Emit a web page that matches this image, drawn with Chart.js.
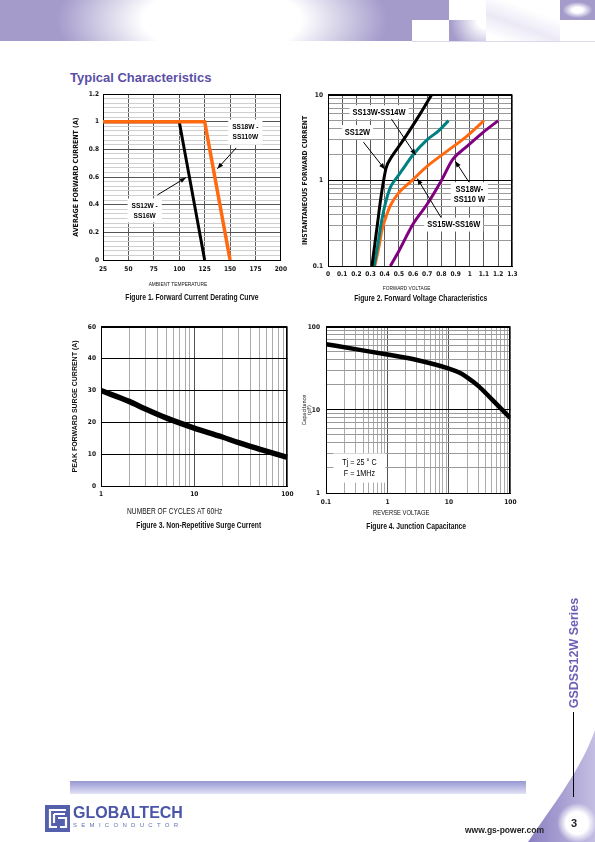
<!DOCTYPE html>
<html>
<head>
<meta charset="utf-8">
<script src="https://cdn.jsdelivr.net/npm/chart.js@4.4.1/dist/chart.umd.min.js"></script>
<style>
html, body { margin: 0; padding: 0; background: #fff; }
body { width: 595px; height: 842px; position: relative; overflow: hidden; font-family: 'Liberation Sans', Arial, sans-serif; }
.abs { position: absolute; }
canvas { position: absolute; }
</style>
</head>
<body>

<!-- header bands -->
<div class="abs" style="left:0;top:0;width:412px;height:41px;background:radial-gradient(ellipse 165px 70px at 222px 20px,#fff 0,#fff 48%,#a49bcb 100%);"></div>
<div class="abs" style="left:412px;top:0;width:37px;height:20px;background:#a49bcb;"></div>
<div class="abs" style="left:449px;top:20px;width:37px;height:21px;background:radial-gradient(circle at 100% 0%,#fff 0,#fff 20%,#a49bcb 85%);"></div>
<div class="abs" style="left:486px;top:0;width:74px;height:41px;background:linear-gradient(200deg,#fff 30%,#ece9f6 60%,#fff 90%);"></div>
<div class="abs" style="left:560px;top:0;width:35px;height:20px;background:radial-gradient(ellipse 15px 8px at 50% 50%,#fff 35%,#a49bcb 100%);"></div>
<div class="abs" style="left:412px;top:41px;width:183px;height:1px;background:#dcd8ee;"></div>

<div class="abs" style="left:70px;top:70px;font-weight:bold;font-size:13px;color:#5b4fa8;white-space:nowrap;">Typical Characteristics</div>

<canvas id="c1" width="226" height="216" style="left:66px;top:86px;width:226px;height:216px;"></canvas>
<canvas id="c2" width="226" height="218" style="left:296px;top:86px;width:226px;height:218px;"></canvas>
<canvas id="c3" width="232" height="213" style="left:66px;top:318px;width:232px;height:213px;"></canvas>
<canvas id="c4" width="230" height="214" style="left:292px;top:317px;width:230px;height:214px;"></canvas>

<!-- side and footer decoration -->
<svg class="abs" style="left:0;top:0;" width="595" height="842">
  <defs>
    <linearGradient id="sw" x1="0" y1="0" x2="1" y2="0">
      <stop offset="0" stop-color="#8a80c1"/>
      <stop offset="1" stop-color="#c4bee3"/>
    </linearGradient>
    <radialGradient id="wc">
      <stop offset="0.55" stop-color="#fff"/>
      <stop offset="1" stop-color="#fff" stop-opacity="0"/>
    </radialGradient>
    <linearGradient id="bar" x1="0" y1="0" x2="0" y2="1">
      <stop offset="0" stop-color="#9797d2"/>
      <stop offset="0.6" stop-color="#c3c3e9"/>
      <stop offset="1" stop-color="#e3e3f5"/>
    </linearGradient>
  </defs>
  <path d="M595,730 C582,768 553,805 528,842 L595,842 Z" fill="url(#sw)"/>
  <circle cx="577" cy="823" r="20" fill="url(#wc)"/>
  <line x1="573.5" y1="712" x2="573.5" y2="797" stroke="#000" stroke-width="1"/>
  <rect x="70" y="781" width="456" height="13" fill="url(#bar)"/>
  <rect x="45" y="805" width="25" height="27" fill="#5560ad"/>
  <path d="M21,5 H5 V22 H12 M9,9 H20 M9,9 V18 M13,13 H21 V22 H15" stroke="#fff" stroke-width="2.2" fill="none" transform="translate(45,805)"/>
</svg>
<div class="abs" style="left:574px;top:653px;transform:translate(-50%,-50%) rotate(-90deg);font-weight:bold;font-size:12.5px;color:#6b5fb6;white-space:nowrap;">GSDSS12W Series</div>
<div class="abs" style="left:73px;top:804px;font-weight:bold;font-size:16px;color:#4a55a8;white-space:nowrap;">GLOBALTECH</div>
<div class="abs" style="left:73px;top:822px;font-size:6px;letter-spacing:4.3px;color:#6470b5;white-space:nowrap;">SEMICONDUCTOR</div>
<div class="abs" style="left:465px;top:825px;font-weight:bold;font-size:8.5px;color:#222;white-space:nowrap;">www.gs-power.com</div>
<div class="abs" style="left:571px;top:817px;font-weight:bold;font-size:11px;color:#222;">3</div>

<script>
// Figure 1 - forward current derating
const derateTempLow = [25, 100, 125];   // SS12W - SS16W
const derateCurLow = [1, 1, 0];
const derateTempHigh = [25, 125, 150];  // SS18W - SS110W
const derateCurHigh = [1, 1, 0];
const fig1XLabels = ['25', '50', '75', '100', '125', '150', '175', '200'];
const fig1YLabels = ['0', '0.2', '0.4', '0.6', '0.8', '1', '1.2'];

// Figure 2 - forward voltage characteristics
const vfSS12 = [0.31, 0.33, 0.35, 0.37, 0.39, 0.41, 0.45, 0.5, 0.56, 0.65, 0.73];
const ifSS12 = [0.1, 0.18, 0.32, 0.58, 0.95, 1.4, 1.9, 2.5, 3.5, 6, 10];
const vfSS13 = [0.325, 0.35, 0.37, 0.4, 0.44, 0.48, 0.52, 0.6, 0.7, 0.78, 0.85];
const ifSS13 = [0.1, 0.17, 0.28, 0.5, 0.83, 1.05, 1.3, 2.0, 3.0, 3.8, 5];
const vfSS15 = [0.33, 0.36, 0.38, 0.41, 0.44, 0.5, 0.59, 0.7, 0.84, 0.98, 1.1];
const ifSS15 = [0.1, 0.17, 0.26, 0.38, 0.51, 0.72, 0.99, 1.47, 2.2, 3.3, 5];
const vfSS18 = [0.44, 0.5, 0.6, 0.7, 0.8, 0.88, 0.98, 1.09, 1.2];
const ifSS18 = [0.1, 0.15, 0.31, 0.53, 1.0, 1.76, 2.5, 3.6, 5];
const fig2XLabels = ['0', '0.1', '0.2', '0.3', '0.4', '0.5', '0.6', '0.7', '0.8', '0.9', '1', '1.1', '1.2', '1.3'];
const fig2YLabels = ['0.1', '1', '10'];

// Figure 3 - non-repetitive surge current
const surgeCycles = [1, 2, 3, 5, 10, 20, 30, 50, 100];
const surgeCurrent = [30, 26.6, 24.2, 21.4, 18.2, 15.4, 13.6, 11.6, 9];
const fig3XLabels = ['1', '10', '100'];
const fig3YLabels = ['0', '10', '20', '30', '40', '60'];

// Figure 4 - junction capacitance
const capVoltage = [0.1, 0.3, 1, 3, 10, 15, 20, 30, 50, 100];
const capValue = [62, 54, 46.5, 40, 31.5, 28, 24.5, 19.5, 13.4, 8];
const fig4XLabels = ['0.1', '1', '10', '100'];
const fig4YLabels = ['1', '10', '100'];

const NARROW = "'Liberation Sans Narrow', 'DejaVu Sans Condensed', sans-serif";
const SANS = "'Liberation Sans', Arial, sans-serif";
Chart.defaults.font.family = NARROW;
Chart.defaults.color = '#111';

const pts = (xs, ys) => xs.map((x, i) => ({ x: x, y: ys[i] }));

function logTicks(minExp, maxExp) {
    const out = [];
    for (let e = minExp; e < maxExp; e++) {
        for (let m = 1; m < 10; m++) out.push({ value: m * Math.pow(10, e) });
    }
    out.push({ value: Math.pow(10, maxExp) });
    return out;
}
const isDecade = v => Math.abs(Math.log10(v) - Math.round(Math.log10(v))) < 1e-6;
const decadeLabel = (labels, minExp) => v => isDecade(v) ? labels[Math.round(Math.log10(v)) - minExp] : '';

// black frame around the plot area
const framePlugin = {
    id: 'frame',
    beforeDatasetsDraw(chart) {
        const { ctx, chartArea: a } = chart;
        ctx.save();
        ctx.strokeStyle = '#000';
        ctx.lineWidth = 1;
        ctx.strokeRect(Math.round(a.left) + 0.5, Math.round(a.top) + 0.5,
            Math.round(a.right - a.left) - 1, Math.round(a.bottom - a.top));
        ctx.restore();
    }
};

// text squeezed sideways, to mimic the narrow face of the original
function narrowText(ctx, text, x, y, stretch) {
    ctx.save();
    ctx.translate(x, y);
    ctx.scale(stretch, 1);
    ctx.fillText(text, 0, 0);
    ctx.restore();
}

// boxed labels, arrows, x axis title and figure caption
const notesPlugin = {
    id: 'notes',
    afterDatasetsDraw(chart, args, opts) {
        const { ctx, chartArea: ca, scales } = chart;
        const sx = scales.x, sy = scales.y;
        ctx.save();
        (opts.arrows || []).forEach(a => {
            const x1 = sx.getPixelForValue(a.from[0]), y1 = sy.getPixelForValue(a.from[1]);
            const x2 = sx.getPixelForValue(a.to[0]), y2 = sy.getPixelForValue(a.to[1]);
            ctx.strokeStyle = '#000';
            ctx.lineWidth = 1;
            ctx.beginPath();
            ctx.moveTo(x1, y1);
            ctx.lineTo(x2, y2);
            ctx.stroke();
            const ang = Math.atan2(y2 - y1, x2 - x1), L = 6, W = 2.4;
            ctx.beginPath();
            ctx.moveTo(x2, y2);
            ctx.lineTo(x2 - L * Math.cos(ang) + W * Math.sin(ang), y2 - L * Math.sin(ang) - W * Math.cos(ang));
            ctx.lineTo(x2 - L * Math.cos(ang) - W * Math.sin(ang), y2 - L * Math.sin(ang) + W * Math.cos(ang));
            ctx.closePath();
            ctx.fillStyle = '#000';
            ctx.fill();
        });
        (opts.labels || []).forEach(l => {
            ctx.font = l.font;
            const st = l.stretch || 1;
            const w = Math.max(...l.lines.map(t => ctx.measureText(t).width)) * st;
            const h = l.gap * l.lines.length;
            const cx = sx.getPixelForValue(l.x), cy = sy.getPixelForValue(l.y);
            ctx.fillStyle = '#fff';
            ctx.fillRect(cx - w / 2 - l.padX, cy - h / 2 - l.padY, w + 2 * l.padX, h + 2 * l.padY);
            ctx.fillStyle = '#000';
            ctx.textAlign = 'center';
            ctx.textBaseline = 'middle';
            l.lines.forEach((t, i) => narrowText(ctx, t, cx, cy - h / 2 + l.gap * (i + 0.5), st));
        });
        (opts.texts || []).forEach(t => {
            ctx.font = t.font;
            ctx.fillStyle = '#111';
            ctx.textAlign = 'center';
            ctx.textBaseline = 'middle';
            narrowText(ctx, t.text, (ca.left + ca.right) / 2 + t.dx, ca.bottom + t.dy, t.stretch || 1);
        });
        ctx.restore();
    }
};

const base = {
    responsive: false,
    animation: false,
    devicePixelRatio: 1,
    elements: { point: { radius: 0 } },
};
const tickFont = { family: NARROW, size: 6.5, weight: 'bold' };
const capFont = 'bold 9px ' + SANS;
const capStretch = 0.75;

// Figure 1
new Chart(document.getElementById('c1'), {
    type: 'line',
    data: {
        datasets: [
            { data: pts(derateTempHigh, derateCurHigh), borderColor: '#ff6a10', borderWidth: 3.5 },
            { data: pts(derateTempLow, derateCurLow), borderColor: '#000', borderWidth: 3 }
        ]
    },
    options: Object.assign({}, base, {
        layout: { padding: { left: 0, top: 8, right: 5, bottom: 12 } },
        plugins: {
            legend: { display: false },
            tooltip: { enabled: false },
            notes: {
                labels: [
                    { lines: ['SS18W -', 'SS110W'], x: 165, y: 0.925, font: 'bold 8px ' + SANS, stretch: 0.82, gap: 10.5, padX: 4, padY: 2 },
                    { lines: ['SS12W -', 'SS16W'], x: 66, y: 0.358, font: 'bold 8px ' + SANS, stretch: 0.82, gap: 10, padX: 4, padY: 2 }
                ],
                arrows: [
                    { from: [156, 0.81], to: [137.5, 0.66] },
                    { from: [78.5, 0.47], to: [106.5, 0.595] }
                ],
                texts: [
                    { text: 'AMBIENT TEMPERATURE', dx: -14, dy: 24, font: '6px ' + SANS, stretch: 0.8 },
                    { text: 'Figure 1. Forward Current Derating Curve', dx: 0, dy: 38, font: capFont, stretch: capStretch }
                ]
            }
        },
        scales: {
            x: {
                type: 'linear', min: 25, max: 200,
                afterFit: s => { s.height = 30; },
                ticks: { stepSize: 25, padding: 5, font: tickFont, maxRotation: 0, autoSkip: false, callback: (v, i) => fig1XLabels[i] },
                grid: { color: '#5a5a5a', drawTicks: false },
                border: { color: '#000' }
            },
            y: {
                min: 0, max: 1.2,
                afterFit: s => { s.width = 37; },
                afterBuildTicks: s => { s.ticks = Array.from({ length: 37 }, (_, i) => ({ value: i * 0.2 / 6 })); },
                ticks: { padding: 4, font: tickFont, autoSkip: false, callback: (v, i) => i % 6 === 0 ? fig1YLabels[i / 6] : '' },
                grid: { color: c => c.index % 6 === 0 ? '#555' : '#cfcfcf', drawTicks: false },
                border: { color: '#000' },
                title: { display: true, text: 'AVERAGE FORWARD CURRENT (A)', font: { size: 7, weight: 'bold', family: NARROW }, padding: { top: 5.8, bottom: 0 } }
            }
        }
    }),
    plugins: [framePlugin, notesPlugin]
});

// Figure 2
new Chart(document.getElementById('c2'), {
    type: 'line',
    data: {
        datasets: [
            { data: pts(vfSS12, ifSS12), borderColor: '#000', borderWidth: 3, cubicInterpolationMode: 'monotone' },
            { data: pts(vfSS13, ifSS13), borderColor: '#008080', borderWidth: 3, cubicInterpolationMode: 'monotone' },
            { data: pts(vfSS15, ifSS15), borderColor: '#ff6a10', borderWidth: 3, cubicInterpolationMode: 'monotone' },
            { data: pts(vfSS18, ifSS18), borderColor: '#800080', borderWidth: 3, cubicInterpolationMode: 'monotone' }
        ]
    },
    options: Object.assign({}, base, {
        layout: { padding: { left: 0, top: 7, right: 5, bottom: 10 } },
        plugins: {
            legend: { display: false },
            tooltip: { enabled: false },
            notes: {
                labels: [
                    { lines: ['SS13W-SS14W'], x: 0.36, y: 6.28, font: 'bold 9px ' + SANS, stretch: 0.83, gap: 10, padX: 3, padY: 2 },
                    { lines: ['SS12W'], x: 0.208, y: 3.68, font: 'bold 9px ' + SANS, stretch: 0.83, gap: 10, padX: 3, padY: 2 },
                    { lines: ['SS18W-', 'SS110 W'], x: 0.997, y: 0.69, font: 'bold 9px ' + SANS, stretch: 0.83, gap: 10, padX: 3, padY: 2 },
                    { lines: ['SS15W-SS16W'], x: 0.887, y: 0.305, font: 'bold 9px ' + SANS, stretch: 0.83, gap: 10, padX: 3, padY: 2 }
                ],
                arrows: [
                    { from: [0.435, 5.6], to: [0.618, 1.98] },
                    { from: [0.25, 2.8], to: [0.401, 1.35] },
                    { from: [0.997, 0.94], to: [0.898, 1.68] },
                    { from: [0.818, 0.324], to: [0.63, 1.05] }
                ],
                texts: [
                    { text: 'FORWARD VOLTAGE', dx: -13.5, dy: 22, font: '6px ' + SANS, stretch: 0.8 },
                    { text: 'Figure 2. Forward Voltage Characteristics', dx: 0.5, dy: 33, font: capFont, stretch: capStretch }
                ]
            }
        },
        scales: {
            x: {
                type: 'linear', min: 0, max: 1.3,
                afterFit: s => { s.height = 28; },
                afterBuildTicks: s => { s.ticks = fig2XLabels.map((_, i) => ({ value: i / 10 })); },
                ticks: { padding: 4.5, font: tickFont, maxRotation: 0, autoSkip: false, callback: (v, i) => fig2XLabels[i] },
                grid: { color: '#5a5a5a', drawTicks: false },
                border: { color: '#000' }
            },
            y: {
                type: 'logarithmic', min: 0.1, max: 10,
                afterFit: s => { s.width = 32; },
                afterBuildTicks: s => { s.ticks = logTicks(-1, 1); },
                ticks: { padding: 5, font: tickFont, autoSkip: false, callback: decadeLabel(fig2YLabels, -1) },
                grid: { color: c => c.tick && isDecade(c.tick.value) ? '#000' : '#9a9a9a', drawTicks: false },
                border: { color: '#000' },
                title: { display: true, text: 'INSTANTANEOUS FORWARD CURRENT', font: { size: 6.8, weight: 'bold', family: NARROW }, padding: { top: 5, bottom: 0 } }
            }
        }
    }),
    plugins: [framePlugin, notesPlugin]
});

// Figure 3
new Chart(document.getElementById('c3'), {
    type: 'line',
    data: {
        datasets: [
            { data: pts(surgeCycles, surgeCurrent), borderColor: '#000', borderWidth: 5.5, cubicInterpolationMode: 'monotone' }
        ]
    },
    options: Object.assign({}, base, {
        layout: { padding: { left: 0, top: 8, right: 6, bottom: 13 } },
        plugins: {
            legend: { display: false },
            tooltip: { enabled: false },
            notes: {
                texts: [
                    { text: 'NUMBER OF CYCLES AT 60Hz', dx: -19.5, dy: 26, font: '8.5px ' + SANS, stretch: 0.78 },
                    { text: 'Figure 3. Non-Repetitive Surge Current', dx: 4.5, dy: 40, font: capFont, stretch: capStretch }
                ]
            }
        },
        scales: {
            x: {
                type: 'logarithmic', min: 1, max: 100,
                afterFit: s => { s.height = 32; },
                afterBuildTicks: s => { s.ticks = logTicks(0, 2); },
                ticks: { padding: 4.5, font: tickFont, maxRotation: 0, autoSkip: false, callback: decadeLabel(fig3XLabels, 0) },
                grid: { color: c => c.tick && isDecade(c.tick.value) ? '#555' : '#ababab', drawTicks: false },
                border: { color: '#000' }
            },
            y: {
                min: 0, max: 50,
                afterFit: s => { s.width = 35; },
                ticks: { stepSize: 10, padding: 5, font: tickFont, autoSkip: false, callback: (v, i) => fig3YLabels[i] },
                grid: { color: '#000', drawTicks: false },
                border: { color: '#000' },
                title: { display: true, text: 'PEAK FORWARD SURGE CURRENT (A)', font: { size: 7, weight: 'bold', family: SANS }, padding: { top: 4.8, bottom: 0 } }
            }
        }
    }),
    plugins: [framePlugin, notesPlugin]
});

// Figure 4
new Chart(document.getElementById('c4'), {
    type: 'line',
    data: {
        datasets: [
            { data: pts(capVoltage, capValue), borderColor: '#000', borderWidth: 4.5, cubicInterpolationMode: 'monotone' }
        ]
    },
    options: Object.assign({}, base, {
        layout: { padding: { left: 0, top: 8, right: 6, bottom: 11 } },
        plugins: {
            legend: { display: false },
            tooltip: { enabled: false },
            notes: {
                labels: [
                    { lines: ['Tj = 25 \u00b0 C', 'F = 1MHz'], x: 0.35, y: 2.0, font: '9px ' + SANS, stretch: 0.8, gap: 11.6, padX: 9, padY: 3 }
                ],
                texts: [
                    { text: 'REVERSE VOLTAGE', dx: -17, dy: 20, font: '7.5px ' + SANS, stretch: 0.78 },
                    { text: 'Figure 4. Junction Capacitance', dx: -2, dy: 34, font: capFont, stretch: capStretch }
                ]
            }
        },
        scales: {
            x: {
                type: 'logarithmic', min: 0.1, max: 100,
                afterFit: s => { s.height = 27; },
                afterBuildTicks: s => { s.ticks = logTicks(-1, 2); },
                ticks: { padding: 5.5, font: tickFont, maxRotation: 0, autoSkip: false, callback: decadeLabel(fig4XLabels, -1) },
                grid: { color: c => c.tick && isDecade(c.tick.value) ? '#555' : '#ababab', drawTicks: false },
                border: { color: '#000' }
            },
            y: {
                type: 'logarithmic', min: 1, max: 100,
                afterFit: s => { s.width = 34; },
                afterBuildTicks: s => { s.ticks = logTicks(0, 2); },
                ticks: { padding: 6, font: tickFont, autoSkip: false, callback: decadeLabel(fig4YLabels, 0) },
                grid: { color: c => c.tick && isDecade(c.tick.value) ? '#000' : '#9a9a9a', drawTicks: false },
                border: { color: '#000' },
                title: { display: true, text: ['Capacitance', '(pF)'], font: { size: 5.5, lineHeight: 0.9, family: NARROW }, padding: { top: 10.5, bottom: 0 } }
            }
        }
    }),
    plugins: [framePlugin, notesPlugin]
});
</script>
</body>
</html>
